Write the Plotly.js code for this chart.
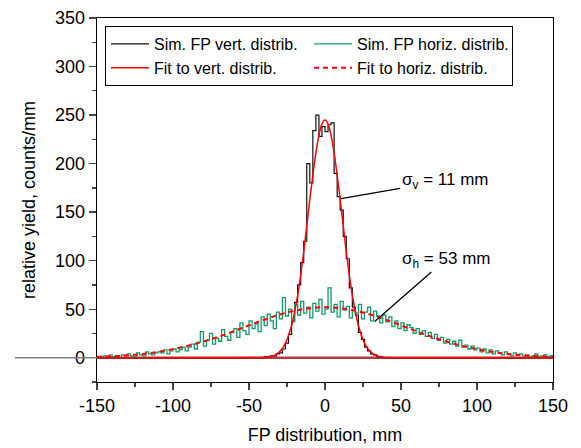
<!DOCTYPE html>
<html>
<head>
<meta charset="utf-8">
<script src="https://cdn.plot.ly/plotly-3.0.1.min.js"></script>
<style>html,body{margin:0;padding:0;background:#fff;}#chart{width:581px;height:448px;}</style>
</head>
<body>
<div id="chart"></div>
<script>
// histogram binning (2 mm bins from -150 to 150)
var binStart = -150;
var binWidth = 2;

// Simulated vertical distribution (counts/mm per bin)
var vertHist = [
  0,0,0,0,0,0,0,0,0,0, 0,0,0,0,0,0,0,0,0,0, 0,0,0,0,0,0,0,0,0,0,
  0,0,0,0,0,0,0,0,0,0, 0,0,0,0,0,0,0,0,0,0, 0,0,0,0,
  0,1,1,2,2,4,5,9,15,24,
  38,57,75,98,120,200,180,234,250,228,
  238,233,240,242,190,166,152,125,102,72,
  52,44,26,19,11,7,4,3,1,1,
  0,
  0,0,0,0,0,0,0,0,0,0, 0,0,0,0,0,0,0,0,0,0, 0,0,0,0,0,0,0,0,0,0,
  0,0,0,0,0,0,0,0,0,0, 0,0,0,0,0,0,0,0,0,0, 0,0,0,0,0
];

// Simulated horizontal distribution (counts/mm per bin)
var horizHist = [
  1,0,2,1,3,1,2,0,3,2,
  4,2,1,5,3,2,6,4,3,5,
  6,5,8,4,7,9,6,8,11,7,
  11,14,9,16,27,12,18,25,14,20,
  17,29,22,18,26,30,21,36,28,24,
  38,30,35,27,42,33,45,38,30,47,
  40,62,43,50,37,55,44,58,46,52,
  41,56,48,60,45,50,72,47,55,42,
  58,49,53,41,50,46,55,40,47,52,
  38,48,43,36,44,37,42,32,38,30,
  36,28,34,31,25,30,24,28,22,26,
  20,24,18,21,15,19,14,17,12,18,
  11,13,9,12,8,10,6,9,5,8,
  4,7,5,3,6,4,2,5,3,4,
  2,3,1,2,4,1,2,3,1,2
];

// Gaussian fit to vertical distribution
var fitVertX = [-150,-40,-38,-36,-34,-32,-30,-28,-26,-24,-22,-20,-18,-16,-14,-12,-10,-8,-6,-4,-2,0,
                2,4,6,8,10,12,14,16,18,20,22,24,26,28,30,32,34,36,38,40,150];
var fitVertY = [0,0.3,0.6,1.2,2,3.5,6,9.5,15,23,33,47,64,85,109,136,163,188,211,229,241,245,
                241,229,211,188,163,136,109,85,64,47,33,23,15,9.5,6,3.5,2,1.2,0.6,0.3,0];

// Gaussian fit to horizontal distribution
var fitHorizX = [-150,-145,-140,-135,-130,-125,-120,-115,-110,-105,-100,-95,-90,-85,-80,-75,-70,-65,-60,-55,-50,
                 -45,-40,-35,-30,-25,-20,-15,-10,-5,0,5,10,15,20,25,30,35,40,45,50,
                 55,60,65,70,75,80,85,90,95,100,105,110,115,120,125,130,135,140,145,150];
var fitHorizY = [0.9,1.2,1.6,1.9,2.5,3.2,3.9,4.9,6.0,7.3,8.8,10.5,12.3,14.4,16.7,19.1,21.7,24.4,27.4,30.4,33.3,
                 36.4,39.1,42.0,44.4,46.6,48.4,49.9,50.9,51.8,52.0,51.8,50.9,49.9,48.4,46.6,44.4,42.0,39.1,36.4,33.3,
                 30.4,27.4,24.4,21.7,19.1,16.7,14.4,12.3,10.5,8.8,7.3,6.0,4.9,3.9,3.2,2.5,1.9,1.6,1.2,0.9];

var legendNames = ["Sim. FP vert. distrib.", "Sim. FP horiz. distrib.", "Fit to vert. distrib.", "Fit to horiz. distrib."];

// tick labels
var xTickVals = [-150, -100, -50, 0, 50, 100, 150];
var xTickText = ["-150", "-100", "-50", "0", "50", "100", "150"];
var yTickVals = [0, 50, 100, 150, 200, 250, 300, 350];
var yTickText = ["0", "50", "100", "150", "200", "250", "300", "350"];

function stepX(n) {
  var xs = [];
  for (var i = 0; i <= n; i++) xs.push(binStart + i * binWidth);
  return xs;
}
function stepY(arr) {
  return arr.concat([arr[arr.length - 1]]);
}

var traces = [
  {x: stepX(vertHist.length), y: stepY(vertHist), type: 'scatter', mode: 'lines',
   line: {shape: 'hv', color: '#111111', width: 1.2}, name: legendNames[0]},
  {x: stepX(horizHist.length), y: stepY(horizHist), type: 'scatter', mode: 'lines',
   line: {shape: 'hv', color: '#109a6c', width: 1.3}, name: legendNames[1]},
  {x: fitVertX, y: fitVertY, type: 'scatter', mode: 'lines',
   line: {shape: 'spline', color: '#ff0000', width: 1.5}, name: legendNames[2]},
  {x: fitHorizX, y: fitHorizY, type: 'scatter', mode: 'lines',
   line: {shape: 'spline', color: '#ff0000', width: 2, dash: '5px,4px'}, name: legendNames[3]}
];

var fontFam = 'Liberation Sans, Arial, sans-serif';

var layout = {
  width: 581, height: 448,
  margin: {l: 97, r: 28, t: 18, b: 66},
  paper_bgcolor: '#ffffff', plot_bgcolor: '#ffffff',
  font: {family: fontFam, size: 17, color: '#000'},
  showlegend: true,
  legend: {
    orientation: 'h', x: 0.0175, y: 0.978, xanchor: 'left', yanchor: 'top',
    bgcolor: '#ffffff', bordercolor: '#000', borderwidth: 1,
    font: {family: fontFam, size: 16, color: '#000'},
    itemwidth: 38, entrywidth: 150, traceorder: 'normal'
  },
  xaxis: {
    range: [-150, 150], tickmode: 'array', tickvals: xTickVals, ticktext: xTickText,
    ticks: 'outside', ticklen: 7, tickwidth: 1.3,
    showline: true, linewidth: 1.3, linecolor: '#000', mirror: true,
    showgrid: false, zeroline: false,
    minor: {dtick: 25, tick0: 0, ticks: 'outside', ticklen: 4, tickwidth: 1.3, showgrid: false},
    tickfont: {size: 18},
    title: {text: 'FP distribution, mm', font: {size: 18}, standoff: 13}
  },
  yaxis: {
    range: [-25, 350], tickmode: 'array', tickvals: yTickVals, ticktext: yTickText,
    ticks: 'outside', ticklen: 7, tickwidth: 1.3,
    showline: true, linewidth: 1.3, linecolor: '#000', mirror: true,
    showgrid: false, zeroline: false,
    minor: {dtick: 25, tick0: 0, ticks: 'outside', ticklen: 4, tickwidth: 1.3, showgrid: false},
    tickfont: {size: 18},
    title: {text: 'relative yield, counts/mm', font: {size: 18}, standoff: 14}
  },
  shapes: [
    {type: 'line', xref: 'paper', yref: 'y', x0: -0.18, x1: 0, y0: 0, y1: 0,
     line: {color: '#808080', width: 1.5}, layer: 'above'},
    {type: 'line', xref: 'paper', yref: 'y', x0: 0, x1: 1, y0: 0, y1: 0,
     line: {color: '#b23a3a', width: 2.5}, layer: 'below'}
  ],
  annotations: [
    {x: 10.6, y: 164, xref: 'x', yref: 'y', text: 'σ<sub>v</sub> = 11 mm',
     showarrow: true, arrowhead: 0, arrowwidth: 1.3, arrowcolor: '#000', ax: 104, ay: -18,
     font: {size: 17, color: '#000'}},
    {x: 32.7, y: 37.3, xref: 'x', yref: 'y', text: 'σ<sub>h</sub> = 53 mm',
     showarrow: true, arrowhead: 0, arrowwidth: 1.3, arrowcolor: '#000', ax: 71, ay: -62,
     font: {size: 17, color: '#000'}}
  ]
};

Plotly.newPlot('chart', traces, layout, {displayModeBar: false, staticPlot: true});
</script>
</body>
</html>
